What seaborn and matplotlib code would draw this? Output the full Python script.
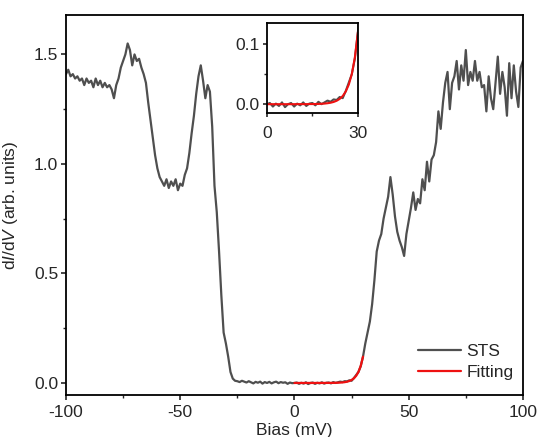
import numpy as np
import pandas as pd
import matplotlib
matplotlib.use("Agg")
import matplotlib.pyplot as plt
import seaborn as sns

# ---- data ----
bias_mv = list(range(-100, 101))  # 1 mV steps
sts_neg = [1.41, 1.43, 1.40, 1.41, 1.39, 1.40, 1.38, 1.39, 1.36, 1.39,
           1.37, 1.38, 1.35, 1.39, 1.36, 1.38, 1.35, 1.37, 1.35, 1.36,
           1.34, 1.30, 1.36, 1.39, 1.44, 1.47, 1.50, 1.55, 1.52, 1.45,
           1.50, 1.47, 1.48, 1.44, 1.41, 1.37, 1.28, 1.20, 1.12, 1.04,
           0.98, 0.94, 0.92, 0.90, 0.93, 0.89, 0.92, 0.90, 0.93, 0.88,
           0.91, 0.90, 0.95, 0.98, 1.05, 1.14, 1.22, 1.32, 1.40, 1.45,
           1.38, 1.30, 1.36, 1.33, 1.17, 0.90, 0.78, 0.60, 0.40, 0.23,
           0.18, 0.12, 0.05, 0.02, 0.010]          # -100 .. -26
sts_gap = [0.008, 0.004, 0.010, 0.006, 0.002, 0.008, 0.003, -0.002, 0.005, 0.001,
           0.006, -0.003, 0.004, 0.000, 0.005, -0.002, 0.003, 0.006, -0.001, 0.004,
           0.001, 0.003, -0.004, 0.002, -0.001, 0.000,                     # -25 .. 0
           0.002, -0.004, 0.001, -0.003, 0.003, -0.005, 0.000, 0.002, -0.004, 0.001,
           -0.002, 0.003, -0.003, 0.001, 0.002, -0.002, 0.004, 0.000, 0.003, 0.006,
           0.004, 0.008, 0.007, 0.012, 0.010, 0.022, 0.036, 0.050, 0.076]  # 1 .. 29
sts_pos = [0.12, 0.18, 0.23, 0.28, 0.36, 0.47, 0.60, 0.65, 0.68, 0.75,
           0.80, 0.85, 0.94, 0.86, 0.76, 0.69, 0.65, 0.62, 0.58, 0.68,
           0.74, 0.80, 0.87, 0.79, 0.84, 0.82, 0.93, 0.88, 1.01, 0.92,
           1.02, 1.04, 1.10, 1.24, 1.16, 1.28, 1.37, 1.42, 1.25, 1.37,
           1.40, 1.47, 1.34, 1.45, 1.38, 1.52, 1.36, 1.42, 1.38, 1.47,
           1.38, 1.42, 1.35, 1.36, 1.24, 1.40, 1.30, 1.25, 1.37, 1.49,
           1.32, 1.42, 1.35, 1.22, 1.46, 1.30, 1.45, 1.33, 1.26, 1.44,
           1.47]                                   # 30 .. 100
sts_didv = sts_neg + sts_gap + sts_pos

fit_bias = list(range(0, 31))
fit_didv = [0.0000, 0.0000, 0.0000, 0.0000, 0.0000, 0.0000, 0.0000, 0.0000,
            0.0000, 0.0000, 0.0001, 0.0001, 0.0001, 0.0001, 0.0002, 0.0002,
            0.0003, 0.0004, 0.0007, 0.0010, 0.0016, 0.0024, 0.0037, 0.0057,
            0.0088, 0.0136, 0.0211, 0.0326, 0.0503, 0.0777, 0.1200]

sts_df = pd.DataFrame({"Bias": bias_mv, "dIdV": sts_didv})
fit_df = pd.DataFrame({"Bias": fit_bias, "dIdV": fit_didv})

# ---- style ----
sns.set_style("ticks")
plt.rcParams["font.family"] = ["Liberation Sans", "DejaVu Sans"]
plt.rcParams["mathtext.fontset"] = "custom"
plt.rcParams["mathtext.it"] = "Liberation Sans:italic"
plt.rcParams["mathtext.rm"] = "Liberation Sans"
plt.rcParams["axes.unicode_minus"] = False

GRAY = "#4f4f4f"
RED = "#ee1111"
FS = 12.5

fig = plt.figure(figsize=(5.39, 4.37), dpi=100)
ax = fig.add_axes([0.1224, 0.0961, 0.8478, 0.8696])

sns.lineplot(data=sts_df, x="Bias", y="dIdV", ax=ax, color=GRAY, lw=1.6, label="STS")
sns.lineplot(data=fit_df, x="Bias", y="dIdV", ax=ax, color=RED, lw=1.6, label="Fitting")

ax.set_xlim(-100, 100)
ax.set_ylim(-0.055, 1.68)
ax.set_xticks([-100, -50, 0, 50, 100])
ax.set_xticklabels(["-100", "-50", "0", "50", "100"])
ax.set_xticks([-75, -25, 25, 75], minor=True)
ax.set_yticks([0.0, 0.5, 1.0, 1.5])
ax.set_yticks([0.25, 0.75, 1.25], minor=True)
ax.set_yticklabels(["0.0", "0.5", "1.0", "1.5"])
ax.set_xlabel("Bias (mV)", fontsize=FS, labelpad=2)
ax.set_ylabel(r"d$\mathit{I}$/d$\mathit{V}$ (arb. units)", fontsize=FS, labelpad=10)
ax.tick_params(axis="x", which="major", direction="out", length=3.5, width=1.2,
               labelsize=FS, pad=4)
ax.tick_params(axis="y", which="major", direction="out", length=3.5, width=1.2,
               labelsize=FS, pad=2)
ax.tick_params(axis="both", which="minor", direction="out", length=2.2, width=1.0)
for s in ax.spines.values():
    s.set_visible(True)
    s.set_linewidth(1.3)
    s.set_color("black")

leg = ax.legend(loc="lower right", bbox_to_anchor=(1.0, 0.015), frameon=False,
                fontsize=FS, handlelength=2.5, handletextpad=0.3, labelspacing=0.3,
                borderaxespad=0.15, borderpad=0.4)

# ---- inset ----
ins = fig.add_axes([0.495, 0.741, 0.169, 0.206])
ins.set_facecolor("white")
sns.lineplot(data=sts_df, x="Bias", y="dIdV", ax=ins, color=GRAY, lw=1.5, legend=False)
sns.lineplot(data=fit_df, x="Bias", y="dIdV", ax=ins, color=RED, lw=1.5, legend=False)
ins.set_xlim(0, 30)
ins.set_ylim(-0.015, 0.135)
ins.set_xticks([0, 30])
ins.set_xticks([15], minor=True)
ins.set_yticks([0.0, 0.1])
ins.set_yticks([0.05], minor=True)
ins.set_yticklabels(["0.0", "0.1"])
ins.set_xlabel("")
ins.set_ylabel("")
ins.tick_params(axis="x", which="major", direction="out", length=3.0, width=1.2,
                labelsize=FS, pad=6)
ins.tick_params(axis="y", which="major", direction="out", length=3.0, width=1.2,
                labelsize=FS, pad=2)
ins.tick_params(axis="both", which="minor", direction="out", length=2.2, width=1.0)
for s in ins.spines.values():
    s.set_visible(True)
    s.set_linewidth(1.3)
    s.set_color("black")

fig.savefig("out.png", dpi=100)
